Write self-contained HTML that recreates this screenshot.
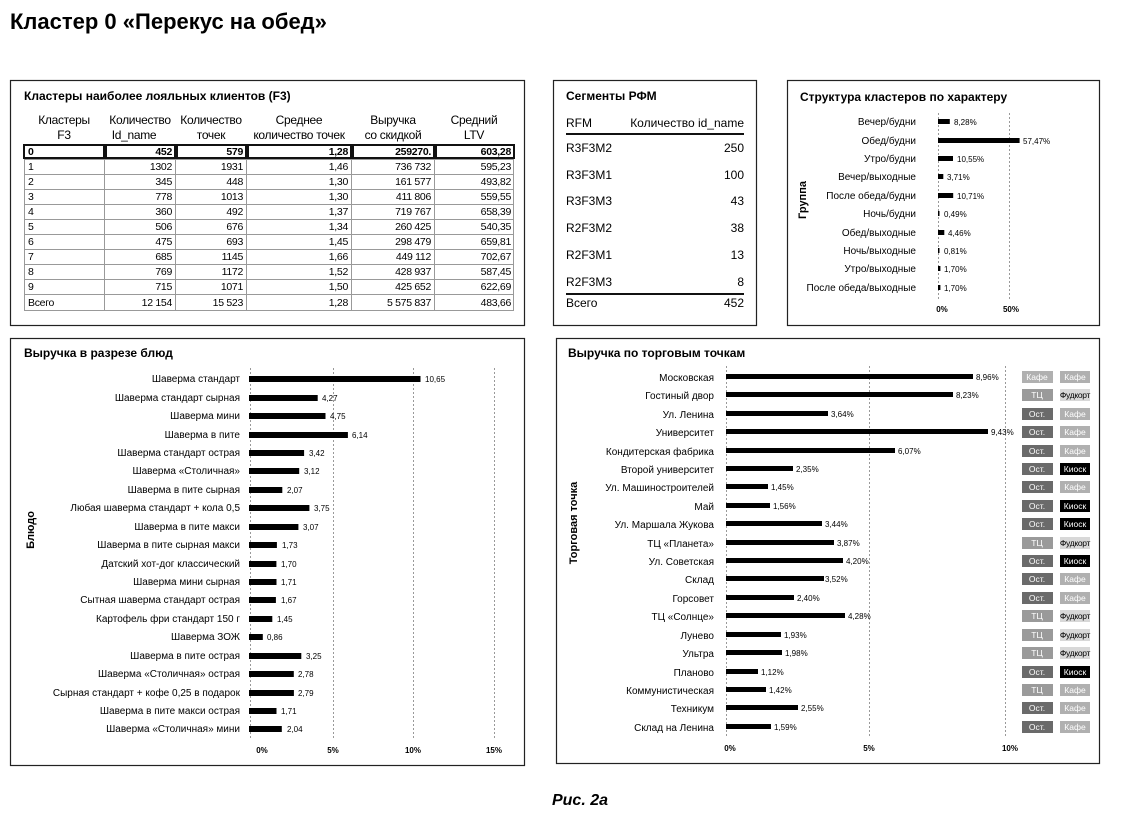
<!DOCTYPE html>
<html><head><meta charset="utf-8"><style>
html,body{margin:0;padding:0;background:#fff;}
svg{display:block;font-family:"Liberation Sans Narrow","Liberation Sans",sans-serif;}
.t{font-weight:bold;font-size:12px;}
.l{font-size:10px;text-anchor:end;}
.v{font-size:8px;}
.ax{font-size:8px;font-weight:bold;text-anchor:middle;}
.g{stroke:#999;stroke-width:1;stroke-dasharray:2,2;}
.tb{font-size:10.5px;letter-spacing:-0.3px;}
.tg{font-size:8.5px;text-anchor:middle;}
</style></head><body>
<svg width="1144" height="815" viewBox="0 0 1144 815">
<text x="10" y="29" font-size="22" font-weight="bold">Кластер 0 «Перекус на обед»</text>
<text x="580" y="805" font-size="16" font-weight="bold" font-style="italic" text-anchor="middle">Рис. 2а</text>

<g fill="none" stroke="#222" stroke-width="1.2">
<rect x="10.5" y="80.5" width="514" height="245"/>
<rect x="553.5" y="80.5" width="203" height="245"/>
<rect x="787.5" y="80.5" width="312" height="245"/>
<rect x="10.5" y="338.5" width="514" height="427"/>
<rect x="556.5" y="338.5" width="543" height="425"/>
</g>

<text x="24" y="100" class="t">Кластеры наиболее лояльных клиентов (F3)</text>
<g text-anchor="middle" font-size="12" letter-spacing="-0.3">
<text x="64" y="124">Кластеры</text><text x="64" y="139">F3</text>
<text x="140" y="124">Количество</text><text x="134" y="139">Id_name</text>
<text x="211" y="124">Количество</text><text x="211" y="139">точек</text>
<text x="299" y="124">Среднее</text><text x="299" y="139">количество точек</text>
<text x="393" y="124">Выручка</text><text x="393" y="139">со скидкой</text>
<text x="474" y="124">Средний</text><text x="474" y="139">LTV</text>
</g>
<g fill="none" stroke="#999" stroke-width="1">
<rect x="24.5" y="159.5" width="489" height="151"/>
<line x1="104.5" y1="159" x2="104.5" y2="310"/><line x1="175.5" y1="159" x2="175.5" y2="310"/>
<line x1="246.5" y1="159" x2="246.5" y2="310"/><line x1="351.5" y1="159" x2="351.5" y2="310"/>
<line x1="434.5" y1="159" x2="434.5" y2="310"/>
<line x1="24" y1="174.5" x2="514" y2="174.5"/><line x1="24" y1="189.5" x2="514" y2="189.5"/>
<line x1="24" y1="204.5" x2="514" y2="204.5"/><line x1="24" y1="219.5" x2="514" y2="219.5"/>
<line x1="24" y1="234.5" x2="514" y2="234.5"/><line x1="24" y1="249.5" x2="514" y2="249.5"/>
<line x1="24" y1="264.5" x2="514" y2="264.5"/><line x1="24" y1="279.5" x2="514" y2="279.5"/>
<line x1="24" y1="294.5" x2="514" y2="294.5"/>
</g>
<g fill="none" stroke="#111" stroke-width="2">
<rect x="24" y="145" width="80" height="13"/><rect x="106" y="145" width="69" height="13"/>
<rect x="177" y="145" width="69" height="13"/><rect x="248" y="145" width="103" height="13"/>
<rect x="353" y="145" width="81" height="13"/><rect x="436" y="145" width="78" height="13"/>
</g>
<g class="tb" font-weight="bold"><text x="28" y="155">0</text></g>
<g class="tb" font-weight="bold" text-anchor="end">
<text x="172" y="155">452</text><text x="243" y="155">579</text><text x="348" y="155">1,28</text><text x="431" y="155">259270.</text><text x="511" y="155">603,28</text>
</g>
<g class="tb">
<text x="28" y="170">1</text><text x="28" y="185">2</text><text x="28" y="200">3</text><text x="28" y="215">4</text><text x="28" y="230">5</text><text x="28" y="245">6</text><text x="28" y="260">7</text><text x="28" y="275">8</text><text x="28" y="290">9</text><text x="28" y="306">Всего</text>
</g>
<g class="tb" text-anchor="end">
<text x="172" y="170">1302</text><text x="243" y="170">1931</text><text x="348" y="170">1,46</text><text x="431" y="170">736 732</text><text x="511" y="170">595,23</text>
<text x="172" y="185">345</text><text x="243" y="185">448</text><text x="348" y="185">1,30</text><text x="431" y="185">161 577</text><text x="511" y="185">493,82</text>
<text x="172" y="200">778</text><text x="243" y="200">1013</text><text x="348" y="200">1,30</text><text x="431" y="200">411 806</text><text x="511" y="200">559,55</text>
<text x="172" y="215">360</text><text x="243" y="215">492</text><text x="348" y="215">1,37</text><text x="431" y="215">719 767</text><text x="511" y="215">658,39</text>
<text x="172" y="230">506</text><text x="243" y="230">676</text><text x="348" y="230">1,34</text><text x="431" y="230">260 425</text><text x="511" y="230">540,35</text>
<text x="172" y="245">475</text><text x="243" y="245">693</text><text x="348" y="245">1,45</text><text x="431" y="245">298 479</text><text x="511" y="245">659,81</text>
<text x="172" y="260">685</text><text x="243" y="260">1145</text><text x="348" y="260">1,66</text><text x="431" y="260">449 112</text><text x="511" y="260">702,67</text>
<text x="172" y="275">769</text><text x="243" y="275">1172</text><text x="348" y="275">1,52</text><text x="431" y="275">428 937</text><text x="511" y="275">587,45</text>
<text x="172" y="290">715</text><text x="243" y="290">1071</text><text x="348" y="290">1,50</text><text x="431" y="290">425 652</text><text x="511" y="290">622,69</text>
<text x="172" y="306">12 154</text><text x="243" y="306">15 523</text><text x="348" y="306">1,28</text><text x="431" y="306">5 575 837</text><text x="511" y="306">483,66</text>
</g>

<text x="566" y="100" class="t">Сегменты РФМ</text>
<g font-size="12">
<text x="566" y="127">RFM</text><text x="744" y="127" text-anchor="end">Количество id_name</text>
<text x="566" y="152">R3F3M2</text><text x="744" y="152" text-anchor="end">250</text>
<text x="566" y="179">R3F3M1</text><text x="744" y="179" text-anchor="end">100</text>
<text x="566" y="205">R3F3M3</text><text x="744" y="205" text-anchor="end">43</text>
<text x="566" y="232">R2F3M2</text><text x="744" y="232" text-anchor="end">38</text>
<text x="566" y="259">R2F3M1</text><text x="744" y="259" text-anchor="end">13</text>
<text x="566" y="286">R2F3M3</text><text x="744" y="286" text-anchor="end">8</text>
<text x="566" y="307">Всего</text><text x="744" y="307" text-anchor="end">452</text>
</g>
<line x1="566" y1="134" x2="744" y2="134" stroke="#111" stroke-width="2"/>
<line x1="566" y1="294" x2="744" y2="294" stroke="#111" stroke-width="2"/>

<text x="800" y="101" class="t">Структура кластеров по характеру</text>
<text transform="translate(806,200) rotate(-90)" font-size="11" font-weight="bold" text-anchor="middle">Группа</text>
<line class="g" x1="938.5" y1="113" x2="938.5" y2="300"/><line class="g" x1="1009.5" y1="113" x2="1009.5" y2="300"/>
<text class="ax" x="942" y="312">0%</text><text class="ax" x="1011" y="312">50%</text>
<g class="l" font-size="9.5">
<text x="916" y="125">Вечер/будни</text><text x="916" y="144">Обед/будни</text><text x="916" y="162">Утро/будни</text>
<text x="916" y="180">Вечер/выходные</text><text x="916" y="199">После обеда/будни</text><text x="916" y="217">Ночь/будни</text>
<text x="916" y="236">Обед/выходные</text><text x="916" y="254">Ночь/выходные</text><text x="916" y="272">Утро/выходные</text>
<text x="916" y="291">После обеда/выходные</text>
</g>
<g fill="#000">
<rect x="938" y="119" width="11.8" height="5"/><rect x="938" y="138" width="81.6" height="5"/>
<rect x="938" y="156" width="15" height="5"/><rect x="938" y="174" width="5.3" height="5"/>
<rect x="938" y="193" width="15.2" height="5"/><rect x="938" y="211" width="1.5" height="5"/>
<rect x="938" y="230" width="6.3" height="5"/><rect x="938" y="248" width="1.5" height="5"/>
<rect x="938" y="266" width="2.4" height="5"/><rect x="938" y="285" width="2.4" height="5"/>
</g>
<g class="v" font-size="7.5">
<text x="954" y="125">8,28%</text><text x="1023" y="144">57,47%</text><text x="957" y="162">10,55%</text>
<text x="947" y="180">3,71%</text><text x="957" y="199">10,71%</text><text x="944" y="217">0,49%</text>
<text x="948" y="236">4,46%</text><text x="944" y="254">0,81%</text><text x="944" y="272">1,70%</text>
<text x="944" y="291">1,70%</text>
</g>

<text x="24" y="357" class="t">Выручка в разрезе блюд</text>
<text transform="translate(34,530) rotate(-90)" font-size="11" font-weight="bold" text-anchor="middle">Блюдо</text>
<line class="g" x1="250.5" y1="368" x2="250.5" y2="740"/><line class="g" x1="333.5" y1="368" x2="333.5" y2="740"/>
<line class="g" x1="413.5" y1="368" x2="413.5" y2="740"/><line class="g" x1="494.5" y1="368" x2="494.5" y2="740"/>
<text class="ax" x="262" y="753">0%</text><text class="ax" x="333" y="753">5%</text><text class="ax" x="413" y="753">10%</text><text class="ax" x="494" y="753">15%</text>
<g class="l">
<text x="240" y="382">Шаверма стандарт</text>
<text x="240" y="401">Шаверма стандарт сырная</text>
<text x="240" y="419">Шаверма мини</text>
<text x="240" y="438">Шаверма в пите</text>
<text x="240" y="456">Шаверма стандарт острая</text>
<text x="240" y="474">Шаверма «Столичная»</text>
<text x="240" y="493">Шаверма в пите сырная</text>
<text x="240" y="511">Любая шаверма стандарт + кола 0,5</text>
<text x="240" y="530">Шаверма в пите макси</text>
<text x="240" y="548">Шаверма в пите сырная макси</text>
<text x="240" y="567">Датский хот-дог классический</text>
<text x="240" y="585">Шаверма мини сырная</text>
<text x="240" y="603">Сытная шаверма стандарт острая</text>
<text x="240" y="622">Картофель фри стандарт 150 г</text>
<text x="240" y="640">Шаверма ЗОЖ</text>
<text x="240" y="659">Шаверма в пите острая</text>
<text x="240" y="677">Шаверма «Столичная» острая</text>
<text x="240" y="696">Сырная стандарт + кофе 0,25 в подарок</text>
<text x="240" y="714">Шаверма в пите макси острая</text>
<text x="240" y="732">Шаверма «Столичная» мини</text>
</g>
<g fill="#000">
<rect x="249" y="376" width="171.5" height="6"/><rect x="249" y="395" width="68.7" height="6"/>
<rect x="249" y="413" width="76.5" height="6"/><rect x="249" y="432" width="98.9" height="6"/>
<rect x="249" y="450" width="55.1" height="6"/><rect x="249" y="468" width="50.2" height="6"/>
<rect x="249" y="487" width="33.3" height="6"/><rect x="249" y="505" width="60.4" height="6"/>
<rect x="249" y="524" width="49.4" height="6"/><rect x="249" y="542" width="27.9" height="6"/>
<rect x="249" y="561" width="27.4" height="6"/><rect x="249" y="579" width="27.5" height="6"/>
<rect x="249" y="597" width="26.9" height="6"/><rect x="249" y="616" width="23.3" height="6"/>
<rect x="249" y="634" width="13.8" height="6"/><rect x="249" y="653" width="52.3" height="6"/>
<rect x="249" y="671" width="44.8" height="6"/><rect x="249" y="690" width="44.9" height="6"/>
<rect x="249" y="708" width="27.5" height="6"/><rect x="249" y="726" width="32.8" height="6"/>
</g>
<g class="v">
<text x="425" y="382">10,65</text><text x="322" y="401">4,27</text><text x="330" y="419">4,75</text>
<text x="352" y="438">6,14</text><text x="309" y="456">3,42</text><text x="304" y="474">3,12</text>
<text x="287" y="493">2,07</text><text x="314" y="511">3,75</text><text x="303" y="530">3,07</text>
<text x="282" y="548">1,73</text><text x="281" y="567">1,70</text><text x="281" y="585">1,71</text>
<text x="281" y="603">1,67</text><text x="277" y="622">1,45</text><text x="267" y="640">0,86</text>
<text x="306" y="659">3,25</text><text x="298" y="677">2,78</text><text x="298" y="696">2,79</text>
<text x="281" y="714">1,71</text><text x="287" y="732">2,04</text>
</g>

<text x="568" y="357" class="t">Выручка по торговым точкам</text>
<text transform="translate(577,523) rotate(-90)" font-size="11" font-weight="bold" text-anchor="middle">Торговая точка</text>
<line class="g" x1="726.5" y1="366" x2="726.5" y2="738"/><line class="g" x1="869.5" y1="366" x2="869.5" y2="738"/>
<line class="g" x1="1005.5" y1="366" x2="1005.5" y2="738"/>
<text class="ax" x="730" y="751">0%</text><text class="ax" x="869" y="751">5%</text><text class="ax" x="1010" y="751">10%</text>
<g class="l">
<text x="714" y="381">Московская</text><text x="714" y="399">Гостиный двор</text><text x="714" y="418">Ул. Ленина</text>
<text x="714" y="436">Университет</text><text x="714" y="455">Кондитерская фабрика</text><text x="714" y="473">Второй университет</text>
<text x="714" y="491">Ул. Машиностроителей</text><text x="714" y="510">Май</text><text x="714" y="528">Ул. Маршала Жукова</text>
<text x="714" y="547">ТЦ «Планета»</text><text x="714" y="565">Ул. Советская</text><text x="714" y="583">Склад</text>
<text x="714" y="602">Горсовет</text><text x="714" y="620">ТЦ «Солнце»</text><text x="714" y="639">Лунево</text>
<text x="714" y="657">Ультра</text><text x="714" y="676">Планово</text><text x="714" y="694">Коммунистическая</text>
<text x="714" y="712">Техникум</text><text x="714" y="731">Склад на Ленина</text>
</g>
<g fill="#000">
<rect x="726" y="374" width="247" height="5"/><rect x="726" y="392" width="227" height="5"/>
<rect x="726" y="411" width="102" height="5"/><rect x="726" y="429" width="262" height="5"/>
<rect x="726" y="448" width="169" height="5"/><rect x="726" y="466" width="67" height="5"/>
<rect x="726" y="484" width="42" height="5"/><rect x="726" y="503" width="44" height="5"/>
<rect x="726" y="521" width="96" height="5"/><rect x="726" y="540" width="108" height="5"/>
<rect x="726" y="558" width="117" height="5"/><rect x="726" y="576" width="98" height="5"/>
<rect x="726" y="595" width="68" height="5"/><rect x="726" y="613" width="119" height="5"/>
<rect x="726" y="632" width="55" height="5"/><rect x="726" y="650" width="56" height="5"/>
<rect x="726" y="669" width="32" height="5"/><rect x="726" y="687" width="40" height="5"/>
<rect x="726" y="705" width="72" height="5"/><rect x="726" y="724" width="45" height="5"/>
</g>
<g class="v" font-size="7.5">
<text x="976" y="380">8,96%</text><text x="956" y="398">8,23%</text><text x="831" y="417">3,64%</text>
<text x="991" y="435">9,43%</text><text x="898" y="454">6,07%</text><text x="796" y="472">2,35%</text>
<text x="771" y="490">1,45%</text><text x="773" y="509">1,56%</text><text x="825" y="527">3,44%</text>
<text x="837" y="546">3,87%</text><text x="846" y="564">4,20%</text><text x="825" y="582">3,52%</text>
<text x="797" y="601">2,40%</text><text x="848" y="619">4,28%</text><text x="784" y="638">1,93%</text>
<text x="785" y="656">1,98%</text><text x="761" y="675">1,12%</text><text x="769" y="693">1,42%</text>
<text x="801" y="711">2,55%</text><text x="774" y="730">1,59%</text>
</g>
<g>
<rect x="1022" y="371" width="31" height="12" fill="#b0b0b0"/>
<rect x="1022" y="389" width="31" height="12" fill="#9a9a9a"/>
<rect x="1022" y="408" width="31" height="12" fill="#6a6a6a"/>
<rect x="1022" y="426" width="31" height="12" fill="#6a6a6a"/>
<rect x="1022" y="445" width="31" height="12" fill="#6a6a6a"/>
<rect x="1022" y="463" width="31" height="12" fill="#6a6a6a"/>
<rect x="1022" y="481" width="31" height="12" fill="#6a6a6a"/>
<rect x="1022" y="500" width="31" height="12" fill="#6a6a6a"/>
<rect x="1022" y="518" width="31" height="12" fill="#6a6a6a"/>
<rect x="1022" y="537" width="31" height="12" fill="#9a9a9a"/>
<rect x="1022" y="555" width="31" height="12" fill="#6a6a6a"/>
<rect x="1022" y="573" width="31" height="12" fill="#6a6a6a"/>
<rect x="1022" y="592" width="31" height="12" fill="#6a6a6a"/>
<rect x="1022" y="610" width="31" height="12" fill="#9a9a9a"/>
<rect x="1022" y="629" width="31" height="12" fill="#9a9a9a"/>
<rect x="1022" y="647" width="31" height="12" fill="#9a9a9a"/>
<rect x="1022" y="666" width="31" height="12" fill="#6a6a6a"/>
<rect x="1022" y="684" width="31" height="12" fill="#9a9a9a"/>
<rect x="1022" y="702" width="31" height="12" fill="#6a6a6a"/>
<rect x="1022" y="721" width="31" height="12" fill="#6a6a6a"/>
</g>
<g class="tg" fill="#fff">
<text x="1037" y="380">Кафе</text><text x="1037" y="398">ТЦ</text><text x="1037" y="417">Ост.</text>
<text x="1037" y="435">Ост.</text><text x="1037" y="454">Ост.</text><text x="1037" y="472">Ост.</text>
<text x="1037" y="490">Ост.</text><text x="1037" y="509">Ост.</text><text x="1037" y="527">Ост.</text>
<text x="1037" y="546">ТЦ</text><text x="1037" y="564">Ост.</text><text x="1037" y="582">Ост.</text>
<text x="1037" y="601">Ост.</text><text x="1037" y="619">ТЦ</text><text x="1037" y="638">ТЦ</text>
<text x="1037" y="656">ТЦ</text><text x="1037" y="675">Ост.</text><text x="1037" y="693">ТЦ</text>
<text x="1037" y="711">Ост.</text><text x="1037" y="730">Ост.</text>
</g>
<g>
<rect x="1060" y="371" width="30" height="12" fill="#b0b0b0"/>
<rect x="1060" y="389" width="30" height="12" fill="#d8d8d8"/>
<rect x="1060" y="408" width="30" height="12" fill="#b0b0b0"/>
<rect x="1060" y="426" width="30" height="12" fill="#b0b0b0"/>
<rect x="1060" y="445" width="30" height="12" fill="#b0b0b0"/>
<rect x="1060" y="463" width="30" height="12" fill="#000"/>
<rect x="1060" y="481" width="30" height="12" fill="#b0b0b0"/>
<rect x="1060" y="500" width="30" height="12" fill="#000"/>
<rect x="1060" y="518" width="30" height="12" fill="#000"/>
<rect x="1060" y="537" width="30" height="12" fill="#d8d8d8"/>
<rect x="1060" y="555" width="30" height="12" fill="#000"/>
<rect x="1060" y="573" width="30" height="12" fill="#b0b0b0"/>
<rect x="1060" y="592" width="30" height="12" fill="#b0b0b0"/>
<rect x="1060" y="610" width="30" height="12" fill="#d8d8d8"/>
<rect x="1060" y="629" width="30" height="12" fill="#d8d8d8"/>
<rect x="1060" y="647" width="30" height="12" fill="#d8d8d8"/>
<rect x="1060" y="666" width="30" height="12" fill="#000"/>
<rect x="1060" y="684" width="30" height="12" fill="#b0b0b0"/>
<rect x="1060" y="702" width="30" height="12" fill="#b0b0b0"/>
<rect x="1060" y="721" width="30" height="12" fill="#b0b0b0"/>
</g>
<g class="tg" fill="#fff">
<text x="1075" y="380">Кафе</text><text x="1075" y="417">Кафе</text><text x="1075" y="435">Кафе</text>
<text x="1075" y="454">Кафе</text><text x="1075" y="472">Киоск</text><text x="1075" y="490">Кафе</text>
<text x="1075" y="509">Киоск</text><text x="1075" y="527">Киоск</text><text x="1075" y="564">Киоск</text>
<text x="1075" y="582">Кафе</text><text x="1075" y="601">Кафе</text><text x="1075" y="675">Киоск</text>
<text x="1075" y="693">Кафе</text><text x="1075" y="711">Кафе</text><text x="1075" y="730">Кафе</text>
</g>
<g class="tg" fill="#000" font-size="8" letter-spacing="-0.3">
<text x="1075" y="398">Фудкорт</text><text x="1075" y="546">Фудкорт</text><text x="1075" y="619">Фудкорт</text>
<text x="1075" y="638">Фудкорт</text><text x="1075" y="656">Фудкорт</text>
</g>
</svg>
</body></html>
